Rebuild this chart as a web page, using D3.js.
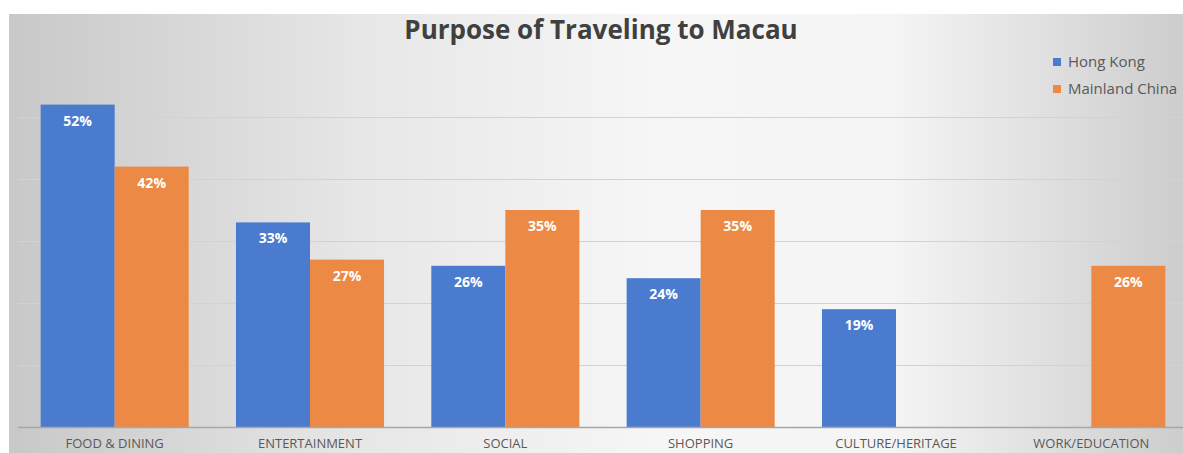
<!DOCTYPE html>
<html>
<head>
<meta charset="utf-8">
<script src="https://cdn.jsdelivr.net/npm/d3@7"></script>
<style>
  html, body { margin: 0; padding: 0; background: #fff; }
  svg { display: block; }
</style>
</head>
<body>
<div id="chart"></div>
<script>
const categories = ["FOOD & DINING", "ENTERTAINMENT", "SOCIAL", "SHOPPING", "CULTURE/HERITAGE", "WORK/EDUCATION"];
const seriesNames = ["Hong Kong", "Mainland China"];
const hongKong = [52, 33, 26, 24, 19, null];
const mainland = [42, 27, 35, 35, null, 26];
const gridTicks = [0, 10, 20, 30, 40, 50];

const colors = { "Hong Kong": "#4a7bcf", "Mainland China": "#ec8a45" };
const width = 1183, height = 453;
const margin = { top: 55, right: -6, bottom: 26, left: 17 };

const svg = d3.select("#chart").append("svg")
  .attr("width", width)
  .attr("height", height);

const grad = svg.append("defs").append("linearGradient")
  .attr("id", "bg").attr("x1", "0%").attr("x2", "100%");
[["0%", "#c8c8c8"], ["30%", "#e7e7e7"], ["55%", "#f6f6f6"], ["75%", "#f5f5f5"], ["100%", "#cdcdcd"]]
  .forEach(([o, c]) => grad.append("stop").attr("offset", o).attr("stop-color", c));

svg.append("rect")
  .attr("x", 9).attr("y", 14)
  .attr("width", width - 9).attr("height", height - 14)
  .attr("fill", "url(#bg)");

const x = d3.scaleBand()
  .domain(categories)
  .range([margin.left, width - margin.right])
  .paddingInner(0.242)
  .paddingOuter(0.121);

const xs = d3.scaleBand()
  .domain(seriesNames)
  .range([0, x.bandwidth()]);

const y = d3.scaleLinear()
  .domain([0, 60])
  .range([height - margin.bottom, margin.top]);

// gridlines
svg.append("g")
  .selectAll("line")
  .data(gridTicks.slice(1))
  .join("line")
  .attr("x1", margin.left + 1).attr("x2", width)
  .attr("y1", d => Math.round(y(d)) + 0.5)
  .attr("y2", d => Math.round(y(d)) + 0.5)
  .attr("stroke", "#d2d2d2")
  .attr("stroke-width", 1);

const rows = categories.map((c, i) => ({
  cat: c,
  vals: [
    { s: "Hong Kong", v: hongKong[i] },
    { s: "Mainland China", v: mainland[i] }
  ]
}));

const groups = svg.append("g")
  .selectAll("g")
  .data(rows)
  .join("g")
  .attr("transform", d => `translate(${x(d.cat)},0)`);

const cells = groups.selectAll("g")
  .data(d => d.vals.filter(v => v.v != null))
  .join("g");

cells.append("rect")
  .attr("x", d => xs(d.s))
  .attr("width", xs.bandwidth())
  .attr("y", d => y(d.v))
  .attr("height", d => y(0) - y(d.v))
  .attr("fill", d => colors[d.s]);

cells.append("text")
  .attr("x", d => xs(d.s) + xs.bandwidth() / 2)
  .attr("y", d => y(d.v) + 21)
  .attr("text-anchor", "middle")
  .attr("fill", "#fff")
  .attr("font-family", "Open Sans, sans-serif")
  .attr("font-weight", "bold")
  .attr("font-size", 14)
  .text(d => d.v + "%");

// baseline
svg.append("line")
  .attr("x1", margin.left + 1).attr("x2", width)
  .attr("y1", y(0) + 0.5).attr("y2", y(0) + 0.5)
  .attr("stroke", "#a6a6a6")
  .attr("stroke-width", 1.5);

// x axis labels
svg.append("g")
  .selectAll("text")
  .data(categories)
  .join("text")
  .attr("x", d => x(d) + x.bandwidth() / 2)
  .attr("y", height - 5)
  .attr("text-anchor", "middle")
  .attr("fill", "#595959")
  .attr("font-family", "Open Sans, sans-serif")
  .attr("font-size", 13)
  .text(d => d);

// title
svg.append("text")
  .attr("x", 601)
  .attr("y", 39)
  .attr("text-anchor", "middle")
  .attr("fill", "#404040")
  .attr("font-family", "Open Sans, sans-serif")
  .attr("font-weight", "bold")
  .attr("font-size", 26)
  .text("Purpose of Traveling to Macau");

// legend
const legend = svg.append("g")
  .selectAll("g")
  .data(seriesNames)
  .join("g")
  .attr("transform", (d, i) => `translate(1053,${62 + i * 27})`);

legend.append("rect")
  .attr("x", 0).attr("y", -4)
  .attr("width", 8).attr("height", 8)
  .attr("fill", d => colors[d]);

legend.append("text")
  .attr("x", 15)
  .attr("y", 5)
  .attr("fill", "#595959")
  .attr("font-family", "Open Sans, sans-serif")
  .attr("font-size", 15)
  .text(d => d);
</script>
</body>
</html>
